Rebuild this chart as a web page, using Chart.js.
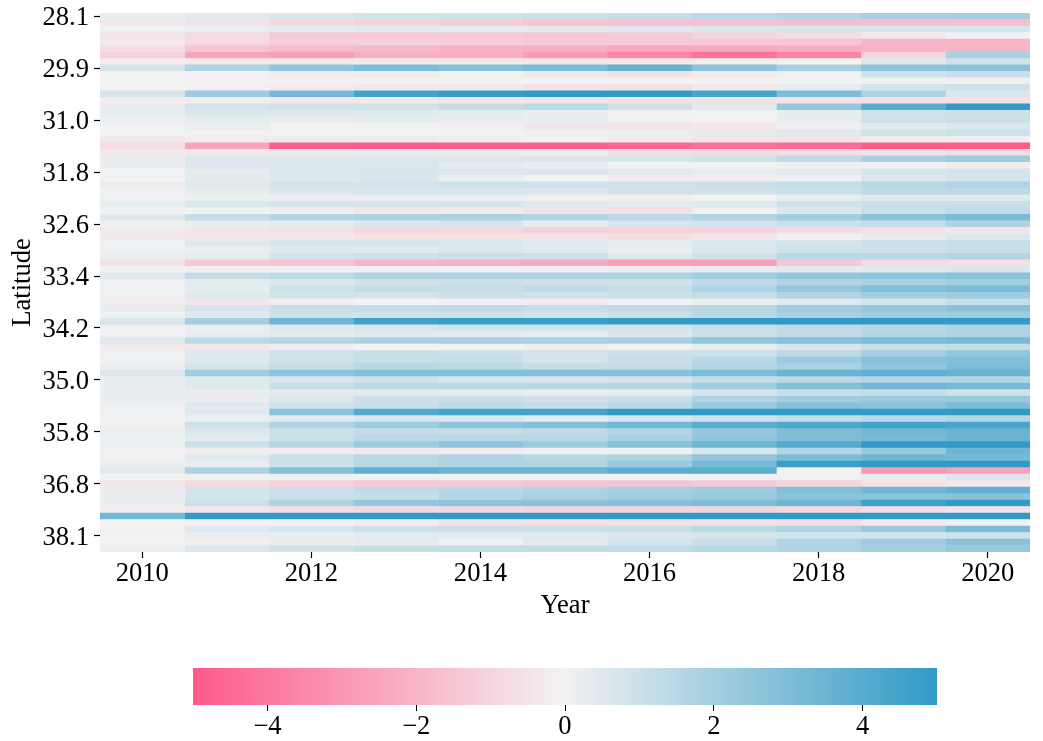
<!DOCTYPE html>
<html>
<head>
<meta charset="utf-8">
<title>Latitude heatmap</title>
<script src="https://cdn.jsdelivr.net/npm/chart.js@4"></script>
<style>
  body { margin: 0; background: #fff; }
  canvas { position: absolute; left: 0; }
  #heat { top: 0; }
  #bar { top: 640px; }
</style>
</head>
<body>
<canvas id="heat" width="1043" height="640"></canvas>
<canvas id="bar" width="1043" height="101"></canvas>
<script>
const years = [2010, 2011, 2012, 2013, 2014, 2015, 2016, 2017, 2018, 2019, 2020];
const yearTicks = [2010, 2012, 2014, 2016, 2018, 2020];
const latTicks = ['28.1', '29.9', '31.0', '31.8', '32.6', '33.4', '34.2', '35.0', '35.8', '36.8', '38.1'];
const barTicks = [-4, -2, 0, 2, 4];

// one row per latitude, top to bottom, one value per year
const heat = [
  [0.2, 0.5, 0.6, 0.8, 0.9, 1.0, 1.2, 1.4, 1.6, 1.9, 2.0],
  [-0.3, -0.5, -0.9, -1.1, -1.2, -1.5, -1.6, -1.6, -1.7, -1.7, -1.7],
  [0.05, 0.2, 0.3, 0.4, 0.4, 0.4, 0.5, 0.6, 0.7, 0.7, 0.8],
  [-0.4, -0.8, -1.3, -1.4, -1.4, -1.5, -1.3, -1.0, -0.7, -0.3, 0.05],
  [-0.3, -0.8, -1.2, -1.1, -1.2, -1.3, -1.3, -1.4, -1.5, -2.0, -2.0],
  [-0.7, -1.5, -1.7, -1.9, -2.1, -2.2, -2.5, -2.4, -2.3, -2.1, -2.0],
  [-1.1, -2.6, -2.7, -2.2, -2.2, -2.8, -3.6, -4.2, -3.6, -1.0, 1.9],
  [-0.2, -0.3, -0.3, -0.3, -0.35, -0.4, -0.3, -0.2, 0.0, 0.6, 0.9],
  [0.8, 1.7, 2.5, 3.0, 2.8, 3.1, 3.6, 2.6, 1.9, 2.6, 2.7],
  [0, -0.05, -0.2, -0.3, -0.1, -0.4, -0.6, -0.3, 0.1, 0.9, 1.1],
  [0, 0, 0, 0, 0, 0, 0, 0, 0, 0.1, 0.1],
  [0, -0.05, -0.2, -0.3, -0.3, -0.5, -0.6, -0.3, 0.3, 0.8, 0.9],
  [0.8, 2.2, 3.2, 4.5, 4.9, 5, 5, 4.4, 3.0, 1.8, 0.6],
  [-0.2, -0.2, -0.3, -0.3, -0.4, -0.5, -0.6, -0.6, -0.6, -0.6, -0.6],
  [0.2, 0.8, 0.9, 0.9, 1.2, 1.4, 0.9, 0.5, 2.4, 4.0, 5],
  [0.3, 0.6, 0.6, 0.5, 0.3, 0.2, -0.05, 0, 0.3, 0.9, 1.0],
  [0.2, 0.3, 0.25, 0.3, 0.3, 0.2, -0.1, 0, 0.3, 0.9, 1.0],
  [0, 0.2, 0, 0, -0.1, -0.4, -0.5, -0.4, -0.1, 0.4, 0.6],
  [0, 0, 0, 0, 0, 0.1, 0.2, 0.3, 0.5, 0.9, 1.0],
  [-0.3, -0.2, 0.2, 0.2, 0.1, 0.05, -0.2, -0.4, -0.5, -0.2, -0.1],
  [-0.7, -2.6, -4.9, -5, -4.9, -4.9, -4.6, -4.2, -4.4, -5, -5],
  [-0.3, -0.3, -0.3, -0.3, -0.3, -0.2, -0.7, -0.8, -0.7, -0.5, -0.7],
  [0.2, 0.6, 0.6, 0.6, 0.6, 0.6, 0.7, 0.9, 1.3, 1.9, 2.2],
  [0.2, 0.6, 0.6, 0.6, 0.4, 0.2, 0.0, 0.0, -0.1, -0.05, -0.2],
  [0, 0.3, 0.6, 0.7, 0.6, 0.6, 0.4, 0.3, 0.4, 0.7, 0.8],
  [0, 0.4, 0.5, 0.6, 0.2, 0.0, -0.2, -0.2, 0.1, 0.6, 0.8],
  [0.2, 0.5, 0.8, 0.8, 0.9, 0.9, 0.9, 1.0, 1.2, 1.5, 1.7],
  [0.05, 0.3, 0.6, 0.7, 0.7, 0.6, 0.9, 0.9, 1.0, 1.4, 1.4],
  [0.05, 0.15, 0.2, 0.2, 0.15, -0.15, -0.15, 0, 0.3, 0.5, 0.5],
  [0.3, 0.6, 0.7, 0.7, 0.7, 0.5, 0.4, 0.5, 0.9, 1.1, 1.1],
  [0.05, 0, -0.15, -0.3, -0.2, -0.5, -0.6, -0.05, 0.6, 1.1, 1.3],
  [0.5, 1.2, 1.6, 1.8, 1.8, 1.6, 1.4, 1.7, 2.1, 2.7, 3.1],
  [0.1, 0.2, 0.3, 0.6, 0.7, 0.3, 0.7, 0.8, 1.0, 1.2, 1.7],
  [-0.3, -0.4, -0.6, -0.9, -0.9, -1.1, -1.1, -1.1, -0.8, -0.6, -0.4],
  [-0.25, -0.4, -0.4, -0.5, -0.6, -0.5, -0.7, -0.4, 0.05, 0.3, 0.6],
  [0.1, 0.5, 0.7, 0.7, 0.6, 0.4, 0.3, 0.6, 0.8, 1.0, 1.1],
  [0.1, 0.2, 0.5, 0.4, 0.6, 0.5, 0.2, 0.6, 0.9, 1.0, 1.1],
  [0.15, 0.3, 0.8, 0.9, 1.0, 0.9, 0.5, 0.9, 1.5, 1.5, 1.6],
  [-0.6, -1.3, -1.5, -2.0, -2.2, -2.3, -2.7, -2.7, -1.4, -0.8, -0.6],
  [0.0, 0.05, 0.1, 0.1, 0.1, 0.1, 0.2, 0.3, 0.4, 0.5, 0.6],
  [0.5, 1.2, 1.4, 1.7, 1.7, 1.8, 1.8, 2.1, 2.5, 2.6, 2.7],
  [0.1, 0.4, 0.6, 0.9, 1.0, 0.9, 0.9, 1.3, 1.7, 1.9, 2.1],
  [0.1, 0.3, 0.9, 1.2, 1.2, 1.3, 1.2, 1.7, 2.4, 2.9, 3.1],
  [0.1, 0.5, 0.8, 0.8, 1.0, 0.9, 1.0, 1.2, 1.7, 2.1, 2.2],
  [-0.2, -0.4, -0.15, 0.0, -0.1, -0.2, 0.0, 0.2, 0.5, 0.8, 1.2],
  [0.2, 0.7, 1.1, 1.2, 1.3, 1.2, 1.3, 1.5, 2.1, 2.4, 2.7],
  [0.1, 0.5, 0.9, 0.9, 0.9, 0.8, 1.1, 1.5, 1.9, 2.1, 2.2],
  [0.6, 2.0, 3.4, 4.6, 4.8, 4.8, 4.9, 5, 5, 5, 5],
  [0.1, 0.2, 0.5, 0.7, 0.8, 0.8, 0.8, 1.1, 1.3, 1.5, 1.7],
  [0.1, 0.3, 0.4, 0.5, 0.4, 0.3, 0.6, 1.0, 1.3, 1.6, 1.7],
  [0.5, 1.4, 1.6, 1.8, 1.9, 1.9, 1.9, 2.5, 2.8, 3.0, 3.2],
  [-0.3, -0.3, -0.2, 0.0, 0.0, -0.2, 0.0, 0.3, 0.7, 1.0, 1.2],
  [0.1, 0.5, 0.9, 1.1, 1.0, 0.8, 1.0, 1.0, 1.4, 2.0, 2.5],
  [0.05, 0.5, 0.9, 1.1, 1.1, 0.8, 1.1, 1.5, 2.3, 2.8, 2.9],
  [0.2, 0.8, 1.2, 1.5, 1.4, 1.2, 1.2, 1.6, 1.9, 2.5, 3.0],
  [0.6, 2.1, 2.6, 2.9, 2.9, 2.9, 2.8, 3.1, 3.6, 3.8, 3.6],
  [0.2, 0.5, 0.7, 0.9, 0.7, 0.7, 0.8, 1.2, 1.4, 1.6, 1.6],
  [0.2, 0.5, 1.1, 1.4, 1.5, 1.5, 1.6, 2.1, 2.9, 3.3, 3.2],
  [0.2, 0.2, 0.4, 0.4, 0.3, 0.2, 0.3, 0.7, 1.1, 1.2, 0.9],
  [0.2, 0.2, 0.6, 1.0, 1.1, 0.9, 1.1, 1.7, 2.1, 2.3, 2.3],
  [0.1, 0.5, 0.9, 1.1, 1.3, 1.2, 1.4, 2.3, 2.8, 2.6, 3.0],
  [0.1, 0.5, 2.7, 4.1, 4.5, 4.5, 5, 5, 5, 5, 5],
  [0, 0.15, 0.4, 0.6, 0.6, 0.4, 0.7, 0.9, 1.2, 1.4, 1.6],
  [0.1, 0.9, 1.7, 2.2, 2.6, 2.9, 3.3, 3.9, 4.2, 4.5, 4.3],
  [0.15, 0.6, 1.0, 1.2, 1.2, 1.3, 1.6, 2.4, 3.0, 3.3, 3.5],
  [0.1, 0.4, 1.0, 1.4, 1.5, 1.5, 1.9, 2.5, 3.0, 3.2, 3.5],
  [0.2, 1.0, 1.6, 2.2, 2.6, 2.2, 2.8, 3.4, 4.1, 5, 5],
  [-0.05, -0.2, -0.2, -0.3, -0.2, 0, 0.1, 0.7, 1.6, 2.3, 3.4],
  [0.05, 0.5, 1.0, 1.5, 1.7, 1.5, 1.8, 2.5, 3.0, 3.4, 3.2],
  [0.15, 0.2, 1.0, 1.5, 1.7, 1.7, 2.3, 3.2, 4.8, 5, 5],
  [0.4, 1.8, 2.9, 3.8, 3.5, 3.5, 3.9, 3.9, -0.05, -3.0, -2.6],
  [0.02, 0.05, 0.05, 0.05, 0.05, 0.05, 0.05, 0.05, 0.1, 0.3, 0.6],
  [-0.4, -0.8, -1.1, -1.3, -1.4, -1.5, -1.5, -1.3, -1.0, -0.6, -0.3],
  [0.2, 0.8, 1.0, 1.3, 1.5, 1.7, 2.0, 2.2, 2.9, 3.4, 3.7],
  [0.2, 0.8, 1.1, 1.1, 1.6, 1.9, 2.1, 2.3, 2.6, 2.7, 2.7],
  [0.2, 1.0, 1.8, 2.4, 2.6, 2.7, 2.8, 3.0, 3.4, 4.6, 5],
  [-0.2, -0.4, -0.7, -0.9, -0.9, -1.0, -1.0, -1.0, -0.9, -0.7, -0.5],
  [3.3, 5, 5, 5, 5, 5, 5, 5, 5, 5, 5],
  [0, 0.05, 0.05, -0.2, -0.5, -0.6, -0.6, -0.6, -0.7, -0.3, -0.1],
  [0.05, 0.5, 0.7, 0.9, 1.0, 1.0, 1.1, 1.4, 1.7, 2.3, 3.1],
  [0, 0.2, 0.2, 0.4, 0.4, 0.5, 0.6, 0.7, 0.8, 0.8, 0.9],
  [0, -0.1, 0.2, 0.3, 0.1, 0.4, 0.8, 1.1, 1.7, 2.2, 2.7],
  [0.15, 0.6, 0.9, 1.1, 1.2, 1.2, 1.3, 1.5, 1.7, 2.0, 2.4]
];

const low = [255, 90, 137], mid = [242, 242, 242], high = [49, 154, 198];
const serif = '"Liberation Serif", "Times New Roman", serif';
const tickFont = { family: serif, size: 26.6 };

function mix(a, b, t) {
  return `rgb(${a.map((c, i) => Math.round(c + (b[i] - c) * t)).join(',')})`;
}

function cellColor(v) {
  return v < 0 ? mix(mid, low, Math.min(-v / 5, 1)) : mix(mid, high, Math.min(v / 5, 1));
}

const rowLabels = heat.map((row, i) => i % 8 === 0 ? latTicks[i / 8] : '');

new Chart(document.getElementById('heat'), {
  type: 'bar',
  data: {
    labels: rowLabels,
    datasets: years.map((year, j) => ({
      label: String(year),
      data: heat.map(() => [year - 0.5, year + 0.5]),
      backgroundColor: heat.map(row => cellColor(row[j])),
      barPercentage: 1,
      categoryPercentage: 1,
      grouped: false
    }))
  },
  options: {
    indexAxis: 'y',
    responsive: false,
    animation: false,
    devicePixelRatio: 1,
    layout: { padding: { top: 13, right: 13, left: 0, bottom: 0 } },
    plugins: { legend: { display: false }, tooltip: { enabled: false } },
    scales: {
      x: {
        type: 'linear',
        min: 2009.5,
        max: 2020.5,
        afterBuildTicks: s => { s.ticks = yearTicks.map(value => ({ value })); },
        afterFit: s => { s.height = 88; },
        border: { display: false },
        grid: { drawOnChartArea: false, tickLength: 6, tickColor: '#000', tickWidth: 1.2 },
        ticks: { color: '#000', font: tickFont, padding: 0, maxRotation: 0, callback: v => String(v) },
        title: { display: true, text: 'Year', color: '#000', font: tickFont, padding: { top: 0, bottom: 18 } }
      },
      y: {
        afterBuildTicks: s => { s.ticks = s.ticks.filter(t => t.value % 8 === 0); },
        afterFit: s => { s.width = 100; s.paddingTop = 0; s.paddingBottom = 0; },
        border: { display: false },
        grid: { offset: false, drawOnChartArea: false, tickLength: 6, tickColor: '#000', tickWidth: 1.2 },
        ticks: { color: '#000', font: tickFont, padding: 5, autoSkip: false, labelOffset: 2 },
        title: { display: true, text: 'Latitude', color: '#000', font: tickFont, padding: { top: 7, bottom: 0 } }
      }
    }
  }
});

new Chart(document.getElementById('bar'), {
  type: 'bar',
  data: {
    labels: ['scale'],
    datasets: [{
      data: [[-5, 5]],
      barPercentage: 1,
      categoryPercentage: 1,
      backgroundColor: ctx => {
        const area = ctx.chart.chartArea;
        if (!area) return mix(mid, mid, 0);
        const g = ctx.chart.ctx.createLinearGradient(area.left, 0, area.right, 0);
        g.addColorStop(0, mix(low, low, 0));
        g.addColorStop(0.5, mix(mid, mid, 0));
        g.addColorStop(1, mix(high, high, 0));
        return g;
      }
    }]
  },
  options: {
    indexAxis: 'y',
    responsive: false,
    animation: false,
    devicePixelRatio: 1,
    layout: { padding: { top: 28, left: 193, right: 106, bottom: 0 } },
    plugins: { legend: { display: false }, tooltip: { enabled: false } },
    scales: {
      x: {
        type: 'linear',
        min: -5,
        max: 5,
        afterBuildTicks: s => { s.ticks = barTicks.map(value => ({ value })); },
        afterFit: s => { s.height = 36; },
        border: { display: false },
        grid: { drawOnChartArea: false, tickLength: 6, tickColor: '#000', tickWidth: 1 },
        ticks: { color: '#000', font: tickFont, padding: 0, maxRotation: 0, callback: v => String(v).replace('-', '\u2212') }
      },
      y: { display: false }
    }
  }
});
</script>
</body>
</html>
